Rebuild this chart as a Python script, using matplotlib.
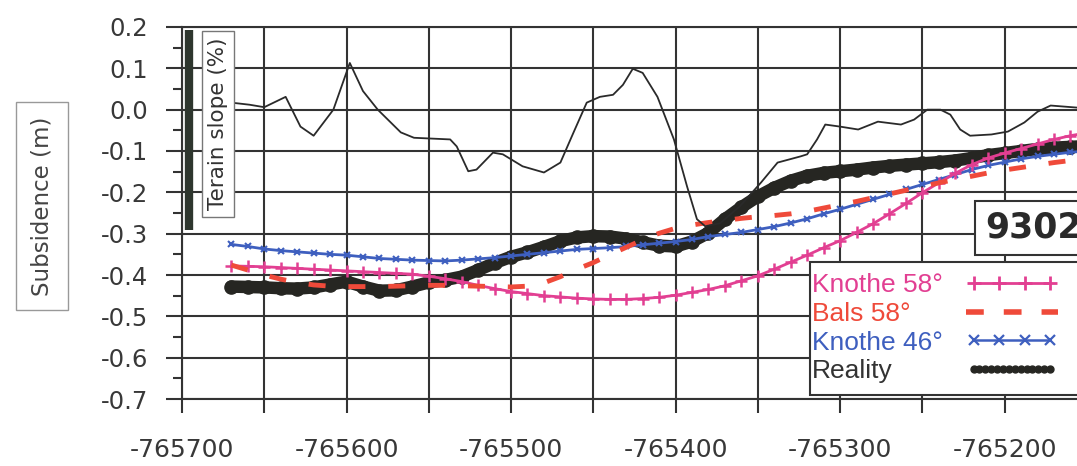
import numpy as np
import matplotlib
matplotlib.use('Agg')
import matplotlib.pyplot as plt
from matplotlib.lines import Line2D
from matplotlib.patches import Rectangle
from matplotlib.legend_handler import HandlerLine2D
from matplotlib.ticker import MultipleLocator, FuncFormatter

plt.rcParams['axes.unicode_minus'] = False
plt.rcParams['font.family'] = ['DejaVu Sans']

# data
x_model = np.arange(-765670, -765149, 10)
knothe58 = [-0.378, -0.379, -0.380, -0.382, -0.384, -0.386, -0.388, -0.390, -0.392, -0.394,
            -0.396, -0.398, -0.403, -0.409, -0.416, -0.425, -0.433, -0.440, -0.445, -0.450,
            -0.453, -0.456, -0.458, -0.459, -0.459, -0.457, -0.454, -0.449, -0.442, -0.435,
            -0.426, -0.414, -0.402, -0.386, -0.369, -0.352, -0.334, -0.317, -0.297, -0.276,
            -0.252, -0.227, -0.201, -0.177, -0.154, -0.133, -0.117, -0.105, -0.094, -0.083,
            -0.072, -0.063, -0.056]
knothe46 = [-0.326, -0.331, -0.337, -0.341, -0.344, -0.347, -0.350, -0.352, -0.356, -0.360,
            -0.362, -0.364, -0.365, -0.366, -0.364, -0.361, -0.358, -0.354, -0.350, -0.346,
            -0.342, -0.338, -0.336, -0.334, -0.331, -0.327, -0.323, -0.319, -0.314, -0.307,
            -0.302, -0.297, -0.290, -0.283, -0.274, -0.264, -0.252, -0.241, -0.229, -0.217,
            -0.205, -0.193, -0.181, -0.169, -0.157, -0.145, -0.135, -0.127, -0.119, -0.113,
            -0.108, -0.103, -0.100]
bals58 = [-0.376, -0.388, -0.400, -0.410, -0.418, -0.424, -0.427, -0.428, -0.428, -0.428,
          -0.427, -0.426, -0.425, -0.425, -0.426, -0.427, -0.428, -0.429, -0.427, -0.419,
          -0.404, -0.386, -0.370, -0.351, -0.333, -0.315, -0.299, -0.287, -0.279, -0.273,
          -0.268, -0.263, -0.259, -0.256, -0.252, -0.246, -0.238, -0.230, -0.222, -0.213,
          -0.204, -0.195, -0.186, -0.177, -0.169, -0.161, -0.153, -0.146, -0.140, -0.134,
          -0.128, -0.123, -0.118]
reality = [-0.428, -0.429, -0.430, -0.432, -0.433, -0.430, -0.423, -0.416, -0.428, -0.438,
           -0.437, -0.428, -0.418, -0.412, -0.404, -0.388, -0.371, -0.356, -0.345, -0.332,
           -0.318, -0.309, -0.306, -0.307, -0.312, -0.321, -0.329, -0.331, -0.319, -0.298,
           -0.265, -0.236, -0.210, -0.189, -0.172, -0.160, -0.153, -0.149, -0.145, -0.140,
           -0.136, -0.133, -0.130, -0.127, -0.123, -0.117, -0.110, -0.105, -0.100, -0.095,
           -0.092, -0.090, -0.088]

terrain_x = [-765670, -765659, -765650, -765637, -765628, -765620, -765608, -765598, -765590,
             -765581, -765567, -765559, -765537, -765533, -765526, -765521, -765511, -765505,
             -765493, -765480, -765470, -765462, -765454, -765446, -765438, -765432, -765426,
             -765420, -765411, -765401, -765393, -765387, -765382, -765373, -765361, -765348,
             -765338, -765324, -765320, -765314, -765309, -765300, -765289, -765277, -765263,
             -765255, -765247, -765239, -765233, -765227, -765221, -765208, -765198, -765188,
             -765180, -765172, -765156]
terrain_y = [0.017, 0.012, 0.006, 0.031, -0.041, -0.063, 0.000, 0.113, 0.045, 0.000,
             -0.055, -0.068, -0.072, -0.089, -0.149, -0.145, -0.104, -0.108, -0.137, -0.152,
             -0.128, -0.055, 0.017, 0.031, 0.036, 0.060, 0.099, 0.089, 0.031, -0.072,
             -0.186, -0.265, -0.282, -0.275, -0.234, -0.176, -0.128, -0.113, -0.108, -0.072,
             -0.036, -0.041, -0.048, -0.029, -0.036, -0.024, 0.000, 0.000, -0.012, -0.048,
             -0.063, -0.060, -0.053, -0.031, -0.005, 0.010, 0.005]

labels = ['Knothe 58°', 'Bals 58°', 'Knothe 46°', 'Reality']
c_mag = '#e23f92'
c_red = '#ef4a3a'
c_blue = '#3e5fbf'
c_blk = '#262622'
c_grid = '#333333'

W, H = 1077, 466
fig = plt.figure(figsize=(W / 100, H / 100), dpi=100)
ax = fig.add_axes([182 / W, (H - 399) / H, 1 - 182 / W, (399 - 27) / H])

# series
ax.plot(x_model, reality, color=c_blk, lw=9, marker='o', ms=9.5, solid_capstyle='round', zorder=3)
ax.plot(x_model, knothe46, color=c_blue, lw=2, marker='x', ms=5, mew=1.5, zorder=4)
ax.plot(x_model, knothe58, color=c_mag, lw=2, marker='+', ms=8, mew=1.8, zorder=5)
ax.plot(x_model, bals58, color=c_red, lw=3.5, dashes=(3.5, 4.7), zorder=6)
ax.plot(terrain_x, terrain_y, color='#2a2a2a', lw=1.3, zorder=7)

ax.set_xlim(-765700, -765156)
ax.set_ylim(-0.7, 0.2)
ax.xaxis.set_major_locator(MultipleLocator(50))
ax.xaxis.set_major_formatter(FuncFormatter(lambda v, p: f'{v:.0f}' if round(v) % 100 == 0 else ''))
ax.yaxis.set_major_locator(MultipleLocator(0.1))
ax.yaxis.set_minor_locator(MultipleLocator(0.05))
ax.yaxis.set_major_formatter(FuncFormatter(lambda v, p: f'{v:.1f}'.replace('-0.0', '0.0')))

ax.grid(True, which='major', color=c_grid, lw=1.5)
ax.set_axisbelow(True)
for s in ['left', 'bottom', 'top']:
    ax.spines[s].set_color(c_grid)
    ax.spines[s].set_linewidth(1.5)
ax.spines['right'].set_visible(False)

ax.tick_params(axis='y', which='major', direction='out', length=11.5, width=1.5, color=c_grid,
               pad=13, labelsize=17.5, labelcolor='#383838')
ax.tick_params(axis='y', which='minor', direction='out', length=6.5, width=1.5, color=c_grid)
ax.tick_params(axis='x', which='major', direction='out', length=10, width=1.5, color=c_grid,
               pad=18, labelsize=18, labelcolor='#383838')

# y label in a box
fig.text(42 / W, 1 - 206 / H, 'Subsidence (m)', rotation=90, ha='center', va='center',
         fontsize=16.5, color='#444444',
         bbox=dict(boxstyle='square,pad=0.62', fc='white', ec='#999999', lw=1))

# terrain slope label and bar
fig.add_artist(Line2D([189 / W, 189 / W], [1 - 30 / H, 1 - 230 / H], lw=6, color='#2e362e',
                      solid_capstyle='butt', zorder=9))
fig.text(218 / W, 1 - 124 / H, 'Terain slope (%)', rotation=90, ha='center', va='center',
         fontsize=15.5, color='#333333', zorder=9,
         bbox=dict(boxstyle='square,pad=0.3', fc='white', ec='#777777', lw=1))

# 9302 box
fig.text(985 / W, 1 - 228 / H, '9302', ha='left', va='center', fontsize=25, fontweight='bold',
         color='#2a2a2a', zorder=12,
         bbox=dict(boxstyle='square,pad=0.28', fc='white', ec=c_grid, lw=1.5))

# legend box
fig.add_artist(Rectangle((810 / W, 1 - 395 / H), 300 / W, 133 / H, transform=fig.transFigure,
                         fc='white', ec=c_grid, lw=1.5, zorder=10))

leg_size = 19
leg_hl = 3.5
h1 = Line2D([], [], color=c_mag, lw=2, marker='+', ms=10, mew=2)
h2 = Line2D([], [], color=c_red, lw=4, dashes=(3.2, 3.6))
h3 = Line2D([], [], color=c_blue, lw=1.8, marker='x', ms=7, mew=1.6)
h4 = Line2D([], [], color=c_blk, lw=2, marker='o', ms=5)
hmap = {h1: HandlerLine2D(numpoints=4), h3: HandlerLine2D(numpoints=4),
        h4: HandlerLine2D(numpoints=14)}
leg = fig.legend([h1, h2, h3, h4], labels, loc='upper left',
                 bbox_to_anchor=(812 / W, 1 - 273 / H), bbox_transform=fig.transFigure,
                 frameon=False, markerfirst=False, borderpad=0, borderaxespad=0,
                 labelspacing=0.18, handlelength=leg_hl, handletextpad=0.5,
                 prop={'family': 'Liberation Sans', 'size': leg_size}, handler_map=hmap)
leg.set_zorder(11)
for t, c in zip(leg.get_texts(), [c_mag, c_red, c_blue, '#333333']):
    t.set_color(c)

# keep texts left aligned and handles right aligned
fig.canvas.draw()
r = fig.canvas.get_renderer()
handle_px = leg_hl * leg_size * fig.dpi / 72
col = leg._legend_handle_box.get_children()[0]
for item, t in zip(col.get_children(), leg.get_texts()):
    w = t.get_window_extent(r).width
    item.sep = max(2.0, (246 - w - handle_px) * 72 / fig.dpi)

fig.savefig('out.png', dpi=100)
